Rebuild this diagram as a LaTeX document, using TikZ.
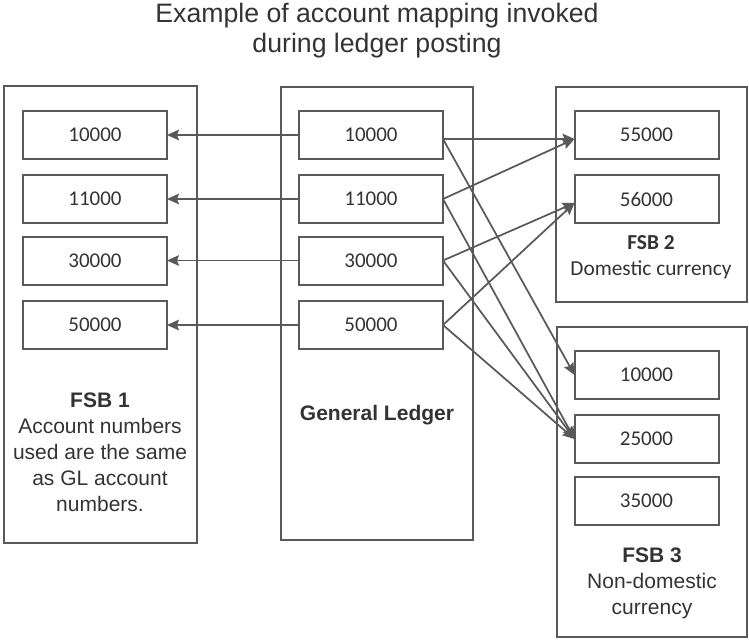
\documentclass[tikz,border=0pt]{standalone}
\usepackage{fontspec}
\setmainfont{Liberation Sans}
\newfontfamily\carl{Carlito}
\usetikzlibrary{arrows.meta,calc}
\definecolor{ln}{HTML}{595959}
\definecolor{tx}{HTML}{333333}
\begin{document}
\begin{tikzpicture}[x=0.75pt,y=-0.75pt,
  outer/.style={draw=ln,line width=1.5pt,inner sep=0pt,outer sep=0pt,rectangle},
  numbox/.style={draw=ln,line width=1.5pt,inner sep=0pt,outer sep=0pt,minimum width=108pt,minimum height=36pt,font=\carl\fontsize{15.75pt}{19pt}\selectfont,text=tx},
  conn/.style={draw=ln,line width=1.3pt,-{Stealth[length=9pt,width=8pt,inset=1.5pt]}},
  lbl/.style={align=center,text=tx,font=\fontsize{15.75pt}{19.5pt}\selectfont},
  clbl/.style={align=center,text=tx,font=\carl\fontsize{16pt}{19.5pt}\selectfont}]
\useasboundingbox (0,0) rectangle (749,639);
% title
\node[align=center,text=tx,font=\fontsize{20pt}{22.5pt}\selectfont] (title) at (377,31) {Example of account mapping invoked\\during ledger posting};
% outer boxes
\node[outer,minimum width=144.75pt,minimum height=342.75pt] (fsb1) at (100.5,314.5) {};
\node[outer,minimum width=144pt,minimum height=339.75pt] (gl) at (377,313.5) {};
\node[outer,minimum width=143.25pt,minimum height=161.25pt] (fsb2) at (651.5,194.5) {};
\node[outer,minimum width=142.5pt,minimum height=232.5pt] (fsb3) at (652,482) {};
% FSB1 boxes
\node[numbox] (l1) at (95,135) {10000};
\node[numbox] (l2) at (95,199) {11000};
\node[numbox] (l3) at (95,260.5) {30000};
\node[numbox] (l4) at (95,325) {50000};
% GL boxes
\node[numbox] (g1) at (371,135) {10000};
\node[numbox] (g2) at (371,199) {11000};
\node[numbox] (g3) at (371,260.5) {30000};
\node[numbox] (g4) at (371,325) {50000};
% FSB2 boxes
\node[numbox] (f21) at (646.5,135) {55000};
\node[numbox] (f22) at (646.5,199) {56000};
% FSB3 boxes
\node[numbox] (f31) at (646.5,375) {10000};
\node[numbox] (f32) at (646.5,439) {25000};
\node[numbox] (f33) at (646.5,500.5) {35000};
% labels
\node[lbl] (t1) at (100,452) {\textbf{FSB 1}\\Account numbers\\used are the same\\as GL account\\numbers.};
\node[lbl,font=\bfseries\fontsize{15.75pt}{19.5pt}\selectfont] (t2) at (377,415) {General Ledger};
\node[clbl] (t3) at (651,257) {\textbf{FSB 2}\\Domestic currency};
\node[lbl] (t4) at (652,583) {\textbf{FSB 3}\\Non-domestic\\currency};
% connectors to FSB1
\draw[conn] (g1.west) -- (l1.east);
\draw[conn] (g2.west) -- (l2.east);
\draw[conn] (g3.west) -- (l3.east);
\draw[conn] (g4.west) -- (l4.east);
% connectors to FSB2 / FSB3
\draw[conn] ([yshift=-3pt]g1.east) -- ([yshift=-3pt]f21.west);
\draw[conn] ([yshift=-3pt]g1.east) -- (f31.west);
\draw[conn] (g2.east) -- ([yshift=-3pt]f21.west);
\draw[conn] (g2.east) -- (f32.west);
\draw[conn] (g3.east) -- ([yshift=-3pt]f22.west);
\draw[conn] (g3.east) -- (f32.west);
\draw[conn] (g4.east) -- ([yshift=-3pt]f22.west);
\draw[conn] (g4.east) -- (f32.west);
\end{tikzpicture}
\end{document}
